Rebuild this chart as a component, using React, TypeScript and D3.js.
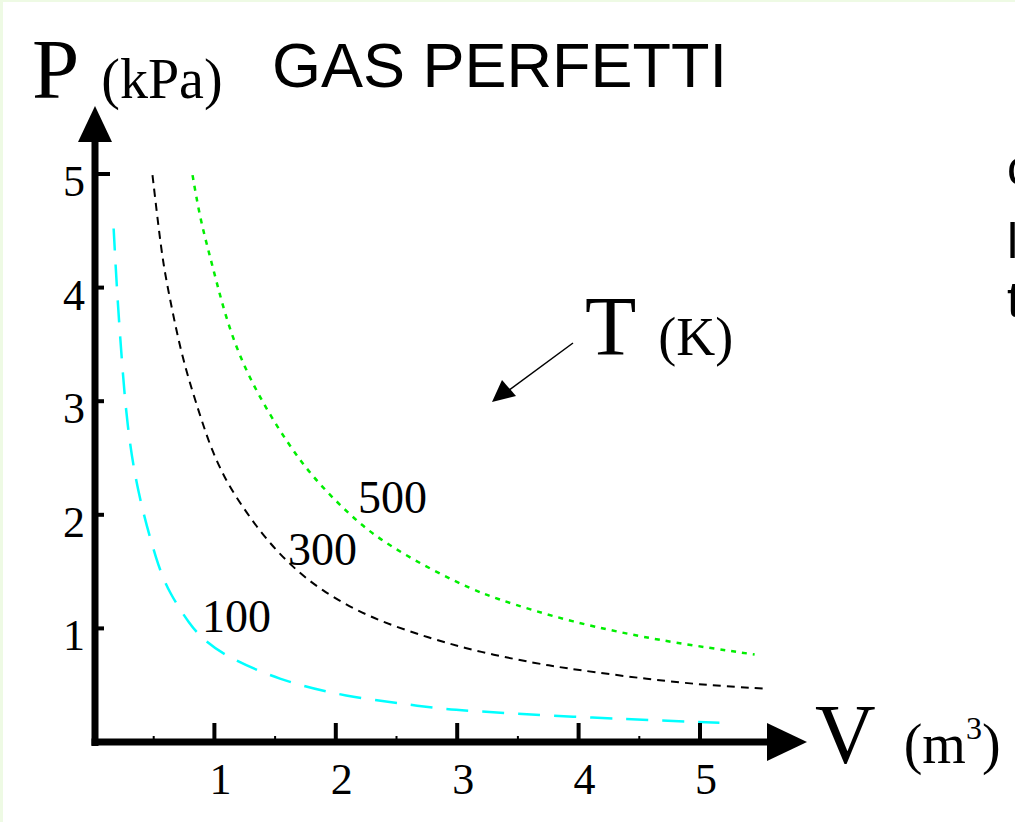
import * as d3 from "d3";
import React from "react";

// isoterme di un gas perfetto (V in m3, P in kPa)
const V100 = [0.17, 0.2, 0.24, 0.28, 0.36, 0.53, 0.63, 0.8, 0.91, 1.1, 1.52, 2.06, 2.75, 2.96, 4.14, 5.16];
const P100 = [4.52, 3.92, 3.32, 2.8, 2.22, 1.56, 1.31, 1.03, 0.9, 0.75, 0.55, 0.4, 0.31, 0.28, 0.21, 0.17];

const V300 = [0.49, 0.54, 0.58, 0.63, 0.72, 0.82, 0.92, 0.98, 1.06, 1.15, 1.38, 1.62, 1.87, 2.26, 2.78, 3.19, 3.66, 3.95, 4.59, 5.06, 5.52];
const P300 = [4.99, 4.53, 4.2, 3.92, 3.45, 3.08, 2.75, 2.57, 2.38, 2.2, 1.84, 1.56, 1.34, 1.1, 0.91, 0.79, 0.69, 0.64, 0.55, 0.5, 0.47];

const V500 = [0.82, 0.88, 0.95, 1.02, 1.1, 1.21, 1.35, 1.52, 1.69, 1.87, 2.2, 2.47, 2.8, 3.13, 3.33, 3.62, 3.95, 4.32, 4.75, 5.45];
const P500 = [4.99, 4.62, 4.33, 4.04, 3.72, 3.39, 3.08, 2.77, 2.5, 2.26, 1.91, 1.71, 1.51, 1.34, 1.26, 1.16, 1.06, 0.97, 0.88, 0.77];

const temperatures = ["100", "300", "500"];
const xTicks = [1, 2, 3, 4, 5];
const xMinorTicks = [0.5, 1.5, 2.5, 3.5, 4.5];
const yTicks = [1, 2, 3, 4, 5];

const W = 1015;
const H = 822;

export default function App() {
	const svgRef = React.useRef<SVGSVGElement>(null);

	React.useEffect(() => {
		if (!svgRef.current) return;
		const svg = d3.select(svgRef.current);
		svg.selectAll("*").remove();

		const x = d3.scaleLinear().domain([0, 5]).range([93, 700]);
		const y = d3.scaleLinear().domain([0, 5]).range([742, 174]);
		const serif = "'Liberation Serif', 'Times New Roman', serif";
		const sans = "'Liberation Sans', Arial, sans-serif";

		svg.append("rect").attr("width", W).attr("height", H).attr("fill", "#fff");
		// bordo verde chiaro della diapositiva
		svg.append("rect").attr("width", 3).attr("height", H).attr("fill", "#eefae4");
		svg.append("rect").attr("width", W).attr("height", 2).attr("fill", "#eefae4");

		// curve
		const series = [
			{ v: V100, p: P100, color: "#00ffff", dash: "22 14", width: 2.5 },
			{ v: V300, p: P300, color: "#000000", dash: "8 6", width: 2 },
			{ v: V500, p: P500, color: "#00ee00", dash: "5 6", width: 2.5 },
		];
		const line = d3
			.line<[number, number]>()
			.x((d) => x(d[0]))
			.y((d) => y(d[1]))
			.curve(d3.curveBasis);

		series.forEach((s) => {
			svg
				.append("path")
				.attr("d", line(s.v.map((v, i) => [v, s.p[i]] as [number, number])))
				.attr("fill", "none")
				.attr("stroke", s.color)
				.attr("stroke-width", s.width)
				.attr("stroke-dasharray", s.dash);
		});

		// etichette delle isoterme
		const labelPos = [
			{ x: 202, y: 632 },
			{ x: 288, y: 565 },
			{ x: 358, y: 513 },
		];
		temperatures.forEach((t, i) => {
			svg
				.append("text")
				.attr("x", labelPos[i].x)
				.attr("y", labelPos[i].y)
				.attr("font-family", serif)
				.attr("font-size", 46)
				.attr("fill", "#000")
				.text(t);
		});

		// assi
		const axisX = x(0) + 2;
		svg
			.append("line")
			.attr("x1", axisX)
			.attr("x2", axisX)
			.attr("y1", y(0) + 4)
			.attr("y2", 140)
			.attr("stroke", "#000")
			.attr("stroke-width", 7);
		svg
			.append("line")
			.attr("x1", axisX - 3.5)
			.attr("x2", 770)
			.attr("y1", y(0))
			.attr("y2", y(0))
			.attr("stroke", "#000")
			.attr("stroke-width", 7);
		svg
			.append("path")
			.attr("d", `M${axisX},106 L${axisX - 17},142 L${axisX + 17},142 Z`)
			.attr("fill", "#000");
		svg
			.append("path")
			.attr("d", `M807,${y(0)} L767,${y(0) - 19} L767,${y(0) + 19} Z`)
			.attr("fill", "#000");

		xTicks.forEach((t) => {
			svg
				.append("line")
				.attr("x1", x(t))
				.attr("x2", x(t))
				.attr("y1", y(0))
				.attr("y2", y(0) - 19)
				.attr("stroke", "#000")
				.attr("stroke-width", 4);
			svg
				.append("text")
				.attr("x", x(t) + 6)
				.attr("y", 794)
				.attr("text-anchor", "middle")
				.attr("font-family", serif)
				.attr("font-size", 44)
				.text(t);
		});
		xMinorTicks.forEach((t) => {
			svg
				.append("line")
				.attr("x1", x(t))
				.attr("x2", x(t))
				.attr("y1", y(0))
				.attr("y2", y(0) - 6)
				.attr("stroke", "#000")
				.attr("stroke-width", 2);
		});
		yTicks.forEach((t) => {
			svg
				.append("line")
				.attr("x1", axisX)
				.attr("x2", t === 5 ? 110 : 104)
				.attr("y1", y(t))
				.attr("y2", y(t))
				.attr("stroke", "#000")
				.attr("stroke-width", 4);
			svg
				.append("text")
				.attr("x", 74)
				.attr("y", y(t) + 22)
				.attr("text-anchor", "middle")
				.attr("font-family", serif)
				.attr("font-size", 44)
				.text(t);
		});

		// titoli degli assi
		const pLabel = svg.append("text").attr("x", 32).attr("y", 98).attr("font-family", serif);
		pLabel.append("tspan").attr("font-size", 85).text("P");
		pLabel.append("tspan").attr("dx", 22).attr("font-size", 56).text("(kPa)");

		const vLabel = svg.append("text").attr("x", 815).attr("y", 763).attr("font-family", serif);
		vLabel.append("tspan").attr("font-size", 84).text("V");
		vLabel.append("tspan").attr("dx", 28).attr("font-size", 56).text("(m");
		vLabel.append("tspan").attr("font-size", 32).attr("dy", -24).text("3");
		vLabel.append("tspan").attr("font-size", 56).attr("dy", 24).text(")");

		const tLabel = svg.append("text").attr("x", 585).attr("y", 355).attr("font-family", serif);
		tLabel.append("tspan").attr("font-size", 84).text("T");
		tLabel.append("tspan").attr("dx", 22).attr("font-size", 54).text("(K)");

		// freccia verso le isoterme
		svg
			.append("line")
			.attr("x1", 573)
			.attr("y1", 343)
			.attr("x2", 508)
			.attr("y2", 391)
			.attr("stroke", "#000")
			.attr("stroke-width", 1.5);
		svg
			.append("path")
			.attr("d", "M492,402 L502,380 L516,396 Z")
			.attr("fill", "#000");

		svg
			.append("text")
			.attr("x", 272)
			.attr("y", 87)
			.attr("font-family", sans)
			.attr("font-size", 63)
			.attr("fill", "#000")
			.text("GAS PERFETTI");

		// testo tagliato dal bordo destro, come nella diapositiva
		const sideText = [
			{ t: "c", y: 185 },
			{ t: "l", y: 258 },
			{ t: "t", y: 317 },
		];
		sideText.forEach((s) => {
			svg
				.append("text")
				.attr("x", 1007)
				.attr("y", s.y)
				.attr("font-family", sans)
				.attr("font-size", 50)
				.text(s.t);
		});
	}, []);

	return (
		<svg
			ref={svgRef}
			width={W}
			height={H}
			style={{ position: "absolute", left: 0, top: 0 }}
		/>
	);
}
